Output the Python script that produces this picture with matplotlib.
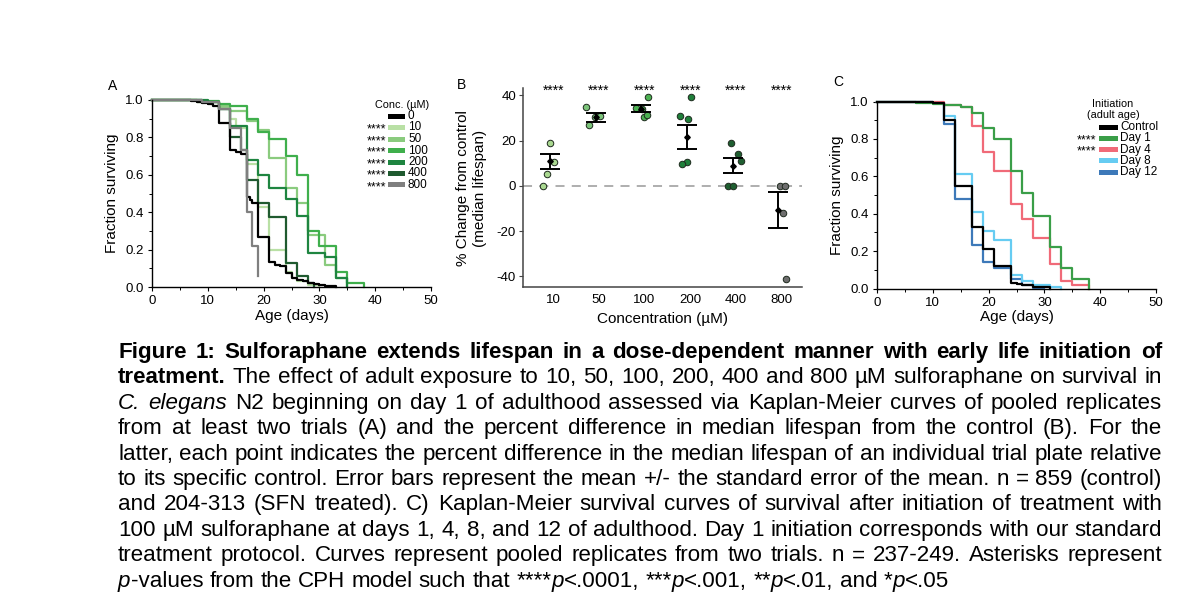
import matplotlib
matplotlib.use("Agg")
import matplotlib.pyplot as plt
from matplotlib.patches import Rectangle
from matplotlib.ticker import MultipleLocator, FormatStrFormatter

plt.rcParams['font.family'] = ['Liberation Sans', 'DejaVu Sans']
plt.rcParams['axes.unicode_minus'] = False

# ---- A: survival by concentration (pooled Kaplan-Meier)
conc_labels = ['0', '10', '50', '100', '200', '400', '800']
conc_colors = ['#000000', '#b9e0a5', '#8acb7e', '#3faf4c', '#1e8540', '#1f5a2f', '#7f7f7f']
conc_stars = ['', '****', '****', '****', '****', '****', '****']

days_0 = [0, 7, 8, 9, 10, 11, 12, 14, 15, 16, 17, 17.5, 18, 19, 21, 22, 23, 24, 25, 26, 27, 28, 29, 30, 31, 33]
surv_0 = [1.0, 0.995, 0.99, 0.985, 0.98, 0.97, 0.875, 0.73, 0.72, 0.71, 0.48, 0.465, 0.45, 0.27, 0.135, 0.12, 0.11, 0.075, 0.05, 0.035, 0.03, 0.02, 0.015, 0.01, 0.005, 0.0]
days_10 = [0, 8, 12, 14, 15, 17, 19, 21, 24, 25, 26, 28, 30]
surv_10 = [1.0, 0.99, 0.96, 0.90, 0.85, 0.66, 0.43, 0.20, 0.08, 0.05, 0.03, 0.01, 0.0]
days_50 = [0, 8, 12, 14, 17, 19, 21, 24, 26, 28, 31, 33, 35]
surv_50 = [1.0, 0.99, 0.97, 0.94, 0.89, 0.84, 0.69, 0.53, 0.45, 0.28, 0.12, 0.05, 0.0]
days_100 = [0, 9, 12, 14, 17, 19, 21, 24, 26, 28, 30, 33, 35, 38]
surv_100 = [1.0, 0.995, 0.98, 0.97, 0.90, 0.83, 0.79, 0.70, 0.60, 0.30, 0.22, 0.08, 0.02, 0.0]
days_200 = [0, 10, 12, 14, 17, 19, 21, 24, 26, 28, 31, 33, 35]
surv_200 = [1.0, 0.99, 0.95, 0.86, 0.68, 0.60, 0.53, 0.47, 0.38, 0.18, 0.16, 0.05, 0.0]
days_400 = [0, 9, 12, 14, 16, 17, 19, 21, 24, 26, 28, 29]
surv_400 = [1.0, 0.99, 0.95, 0.80, 0.73, 0.57, 0.45, 0.375, 0.13, 0.06, 0.02, 0.0]
days_800 = [0, 9, 12, 14, 16, 17, 18, 19]
surv_800 = [1.0, 0.99, 0.95, 0.85, 0.73, 0.40, 0.22, 0.06]

# ---- B: % change in median lifespan per trial plate
b_cats = ['10', '50', '100', '200', '400', '800']
b_colors = ['#a9d890', '#7cc47a', '#4cb152', '#1f7f3a', '#1e5e30', '#6e6e6e']
pts_10 = [19.0, 10.5, 5.2, 0.0]
pts_50 = [34.7, 26.8, 30.5, 31.0]
pts_100 = [39.2, 34.5, 33.8, 30.6, 31.5]
pts_200 = [39.2, 31.0, 29.5, 10.4, 9.5]
pts_400 = [19.1, 14.1, 11.0, 0.0, 0.0]
pts_800 = [0.0, 0.0, -11.8, -41.3]
jit_10 = [-0.07, 0.01, -0.13, -0.22]
jit_50 = [-0.28, -0.22, -0.08, 0.02]
jit_100 = [0.07, -0.18, -0.05, -0.01, 0.05]
jit_200 = [0.02, -0.23, -0.05, -0.06, -0.17]
jit_400 = [-0.10, 0.04, 0.11, -0.18, -0.07]
jit_800 = [-0.04, 0.07, 0.04, 0.11]
b_means = [10.8, 30.3, 34.2, 21.7, 9.0, -10.5]
b_sems = [3.1, 1.9, 1.6, 5.3, 3.2, 8.0]

# ---- C: survival by day of treatment initiation
init_labels = ['Control', 'Day 1', 'Day 4', 'Day 8', 'Day 12']
init_colors = ['#000000', '#3a9e48', '#f06a78', '#66ccf2', '#3d79b9']
init_stars = ['', '****', '****', '', '']
days_ctrl = [0, 10, 12, 14, 17, 19, 21, 24, 25, 26, 28, 31]
surv_ctrl = [1.0, 0.99, 0.90, 0.55, 0.33, 0.21, 0.12, 0.03, 0.025, 0.02, 0.01, 0.0]
days_d1 = [0, 7, 10, 12, 15, 17, 19, 21, 24, 26, 28, 31, 33, 35, 38]
surv_d1 = [1.0, 0.99, 0.985, 0.98, 0.97, 0.94, 0.86, 0.80, 0.63, 0.51, 0.39, 0.22, 0.11, 0.05, 0.0]
days_d4 = [0, 10, 12, 15, 17, 19, 21, 24, 26, 28, 31, 33, 35, 38]
surv_d4 = [1.0, 0.995, 0.98, 0.97, 0.87, 0.73, 0.63, 0.45, 0.37, 0.27, 0.13, 0.04, 0.02, 0.0]
days_d8 = [0, 6, 10, 12, 14, 17, 19, 21, 24, 26, 28, 31, 33]
surv_d8 = [1.0, 0.995, 0.99, 0.92, 0.61, 0.41, 0.31, 0.26, 0.07, 0.04, 0.02, 0.01, 0.0]
days_d12 = [0, 10, 12, 14, 17, 19, 21, 24, 26, 28, 30]
surv_d12 = [1.0, 0.99, 0.88, 0.48, 0.23, 0.14, 0.11, 0.05, 0.02, 0.005, 0.0]

caption = [
    [('Figure 1: Sulforaphane extends lifespan in a dose-dependent manner with early life initiation of', 'b')],
    [('treatment.', 'b'), (' The effect of adult exposure to 10, 50, 100, 200, 400 and 800 \u00b5M sulforaphane on survival in', 'n')],
    [('C. elegans', 'i'), (' N2 beginning on day 1 of adulthood assessed via Kaplan-Meier curves of pooled replicates', 'n')],
    [('from at least two trials (A) and the percent difference in median lifespan from the control (B). For the', 'n')],
    [('latter, each point indicates the percent difference in the median lifespan of an individual trial plate relative', 'n')],
    [('to its specific control. Error bars represent the mean +/- the standard error of the mean. n = 859 (control)', 'n')],
    [('and 204-313 (SFN treated). C) Kaplan-Meier survival curves of survival after initiation of treatment with', 'n')],
    [('100 \u00b5M sulforaphane at days 1, 4, 8, and 12 of adulthood. Day 1 initiation corresponds with our standard', 'n')],
    [('treatment protocol. Curves represent pooled replicates from two trials. n = 237-249. Asterisks represent', 'n')],
    [('p', 'i'), ('-values from the CPH model such that ****', 'n'), ('p', 'i'), ('<.0001, ***', 'n'), ('p', 'i'),
     ('<.001, **', 'n'), ('p', 'i'), ('<.01, and *', 'n'), ('p', 'i'), ('<.05', 'n')],
]

W, H = 1179, 601
fig = plt.figure(figsize=(W / 100, H / 100), dpi=100)


def add_ax(l, t, r, b):
    return fig.add_axes([l / W, 1 - b / H, (r - l) / W, (b - t) / H])


def ftext(x, y, s, **kw):
    return fig.text(x / W, 1 - y / H, s, **kw)


def swatch(x0, x1, y, color, h=5):
    fig.add_artist(Rectangle((x0 / W, 1 - (y + h / 2) / H), (x1 - x0) / W, h / H,
                             transform=fig.transFigure, color=color, lw=0))


def km_axes(ax):
    ax.set_xlim(0, 50)
    ax.set_ylim(0, 1.0)
    ax.xaxis.set_major_locator(MultipleLocator(10))
    ax.xaxis.set_minor_locator(MultipleLocator(5))
    ax.yaxis.set_major_locator(MultipleLocator(0.2))
    ax.yaxis.set_minor_locator(MultipleLocator(0.1))
    ax.yaxis.set_major_formatter(FormatStrFormatter('%.1f'))
    for s in ['top', 'right']:
        ax.spines[s].set_visible(False)
    for s in ['left', 'bottom']:
        ax.spines[s].set_linewidth(1.0)
    ax.tick_params(which='major', length=3, width=0.8, labelsize=9.5, pad=3)
    ax.tick_params(which='minor', length=2, width=0.7)
    ax.set_xlabel('Age (days)', fontsize=11, va='center')
    ax.set_ylabel('Fraction surviving', fontsize=11, va='center')
    ax.xaxis.set_label_coords(0.5, -0.155)
    ax.yaxis.set_label_coords(-0.145, 0.5)


# ---------- panel A
axA = add_ax(152, 100, 431, 287)
a_days = [days_0, days_10, days_50, days_100, days_200, days_400, days_800]
a_surv = [surv_0, surv_10, surv_50, surv_100, surv_200, surv_400, surv_800]
for k in [1, 2, 3, 4, 5, 0, 6]:
    axA.plot(a_days[k], a_surv[k], drawstyle='steps-post', color=conc_colors[k], lw=1.6, clip_on=False)
km_axes(axA)
ftext(108, 86, 'A', fontsize=10, va='center')
ftext(402, 105, 'Conc. (\u00b5M)', fontsize=7.8, ha='center', va='center')
for k, lab in enumerate(conc_labels):
    y = 116 + 11.5 * k
    swatch(388, 405, y, conc_colors[k])
    ftext(408, y, lab, fontsize=8.5, va='center')
    if conc_stars[k]:
        ftext(386, y + 2, conc_stars[k], fontsize=9, ha='right', va='center')

# ---------- panel B
axB = add_ax(523, 88, 802, 287)
b_pts = [pts_10, pts_50, pts_100, pts_200, pts_400, pts_800]
b_jit = [jit_10, jit_50, jit_100, jit_200, jit_400, jit_800]
axB.axhline(0, color='#a8a8a8', ls=(0, (5, 4)), lw=1.3, zorder=1)
for i in range(len(b_cats)):
    xs = [i + j for j in b_jit[i]]
    axB.scatter(xs, b_pts[i], s=22, color=b_colors[i], edgecolor='#1e2a1e', linewidth=0.7, zorder=3)
    axB.errorbar(i - 0.07, b_means[i], yerr=b_sems[i], fmt='none', ecolor='black',
                 elinewidth=1.4, capsize=7.5, capthick=1.4, zorder=4)
    axB.plot(i - 0.07, b_means[i], marker='D', ms=2.8, color='black', zorder=5)
    axB.text(i, 42.0, '****', ha='center', va='center', fontsize=10)
axB.set_xlim(-0.66, 5.45)
axB.set_ylim(-44.7, 43.3)
axB.set_xticks(range(len(b_cats)))
axB.set_xticklabels(b_cats)
axB.set_yticks([40, 20, 0, -20, -40])
for s in ['top', 'right']:
    axB.spines[s].set_visible(False)
for s in ['left', 'bottom']:
    axB.spines[s].set_color('#444444')
    axB.spines[s].set_linewidth(1.1)
axB.tick_params(axis='x', length=0, labelsize=9.5, pad=5)
axB.tick_params(axis='y', length=3, width=0.8, labelsize=9.5, pad=2, color='#444444')
axB.set_xlabel('Concentration (\u00b5M)', fontsize=11, va='center')
axB.xaxis.set_label_coords(0.5, -0.16)
ftext(463, 188, '% Change from control', fontsize=11, rotation=90, ha='center', va='center')
ftext(480, 188, '(median lifespan)', fontsize=11, rotation=90, ha='center', va='center')
ftext(457, 85, 'B', fontsize=10, va='center')

# ---------- panel C
axC = add_ax(877, 101.5, 1156, 288.5)
c_days = [days_ctrl, days_d1, days_d4, days_d8, days_d12]
c_surv = [surv_ctrl, surv_d1, surv_d4, surv_d8, surv_d12]
for k in [4, 3, 2, 1, 0]:
    axC.plot(c_days[k], c_surv[k], drawstyle='steps-post', color=init_colors[k], lw=1.6, clip_on=False)
km_axes(axC)
ftext(833, 82, 'C', fontsize=10, va='center')
ftext(1113, 104, 'Initiation', fontsize=7.8, ha='center', va='center')
ftext(1113, 115, '(adult age)', fontsize=7.8, ha='center', va='center')
for k, lab in enumerate(init_labels):
    y = 127 + 11.3 * k
    swatch(1099, 1118, y, init_colors[k])
    ftext(1120, y, lab, fontsize=8.5, va='center')
    if init_stars[k]:
        ftext(1096, y + 2, init_stars[k], fontsize=9, ha='right', va='center')

# ---------- caption, justified between x0 and x1
cap_size = 16.1
styles = {'n': {}, 'b': {'weight': 'bold'}, 'i': {'style': 'italic'}}
renderer = fig.canvas.get_renderer()


def text_w(s, st):
    t = ftext(0, 0, s, fontsize=cap_size, **styles[st])
    w = t.get_window_extent(renderer).width
    t.remove()
    return w


def split_words(segs):
    words = [[]]
    for txt, st in segs:
        parts = txt.split(' ')
        for k, p in enumerate(parts):
            if k > 0:
                words.append([])
            if p:
                words[-1].append((p, st))
    return [w for w in words if w]


x0, x1 = 118, 1162
space_w = text_w('a a', 'n') - text_w('aa', 'n')
for li, segs in enumerate(caption):
    y = 358 + 25.4 * li
    words = split_words(segs)
    widths = [[text_w(p, st) for p, st in w] for w in words]
    total = sum(sum(w) for w in widths)
    last = li == len(caption) - 1
    gap = space_w if last else (x1 - x0 - total) / (len(words) - 1)
    x = x0
    for w, ws in zip(words, widths):
        for (p, st), pw in zip(w, ws):
            ftext(x, y, p, fontsize=cap_size, va='baseline', **styles[st])
            x += pw
        x += gap

fig.savefig('out.png', dpi=100)
